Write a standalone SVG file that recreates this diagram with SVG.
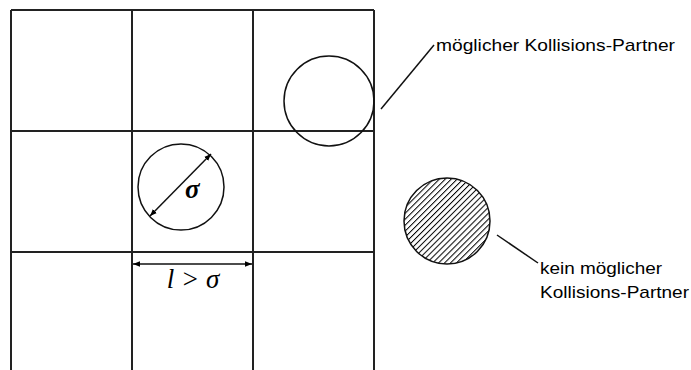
<svg xmlns="http://www.w3.org/2000/svg" width="691" height="370" viewBox="0 0 691 370">
<style>
.g{stroke:#222;stroke-width:2;fill:none}
.c{stroke:#111;stroke-width:1.5;fill:none}
.l{stroke:#111;stroke-width:1.5;fill:none}
.t{font-family:"Liberation Sans",Arial,sans-serif;font-size:17px;fill:#000}
.s{font-family:"Liberation Serif","Times New Roman",serif;font-style:italic;font-size:27px;fill:#000}
</style>
<defs>
<pattern id="hatch" patternUnits="userSpaceOnUse" width="4.2" height="4.2" patternTransform="rotate(45)">
<rect width="4.2" height="4.2" fill="#fff"/>
<line x1="0" y1="0" x2="0" y2="4.2" stroke="#000" stroke-width="2"/>
</pattern>
<marker id="ah" viewBox="0 0 10 10" refX="10" refY="5" markerWidth="7" markerHeight="7" orient="auto-start-reverse" markerUnits="userSpaceOnUse">
<path d="M0,1 L10,5 L0,9 z" fill="#000"/>
</marker>
</defs>
<g id="grid">
<path class="g" d="M11,10 H374 M11,131 H374 M11,252 H374 M11,10 V370 M132,10 V370 M253,10 V370 M374,10 V370"/>
</g>
<g id="partner">
<circle class="c" cx="329" cy="101" r="45"/>
<text class="t" x="436" y="51" textLength="239" lengthAdjust="spacingAndGlyphs">möglicher Kollisions-Partner</text>
</g>
<g id="particle">
<circle class="c" cx="181" cy="187" r="43"/>
<text class="s" x="185" y="198" font-weight="bold">σ</text>
</g>
<g id="nonpartner">
<circle class="c" cx="447" cy="221" r="43" style="fill:url(#hatch)"/>
<text class="t" x="540" y="274" textLength="122" lengthAdjust="spacingAndGlyphs">kein möglicher</text>
<text class="t" x="540" y="298" textLength="149" lengthAdjust="spacingAndGlyphs">Kollisions-Partner</text>
</g>
<g id="cellsize">
<text class="s" x="193" y="288" text-anchor="middle">l &gt; σ</text>
</g>
<g id="connectors">
<line class="l" x1="381" y1="109" x2="434" y2="45"/>
<line class="l" x1="497" y1="235" x2="538" y2="263"/>
<line class="l" x1="150" y1="216" x2="211" y2="154" marker-start="url(#ah)" marker-end="url(#ah)"/>
<line class="l" x1="133" y1="264" x2="252" y2="264" marker-start="url(#ah)" marker-end="url(#ah)"/>
</g>
</svg>
